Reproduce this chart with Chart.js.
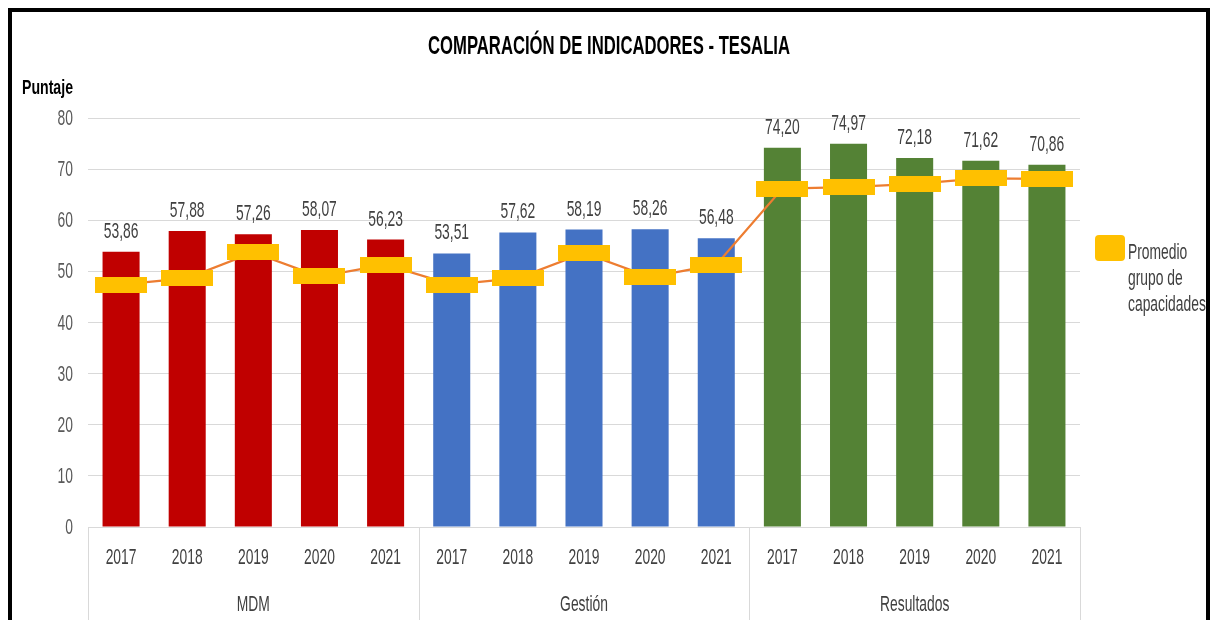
<!DOCTYPE html>
<html>
<head>
<meta charset="utf-8">
<script src="https://cdn.jsdelivr.net/npm/chart.js@4"></script>
<style>
  html, body { margin: 0; padding: 0; background: #fff; overflow: hidden; }
  #wrap { position: relative; width: 1210px; height: 620px; }
  #frame { position: absolute; left: 8px; top: 8px; width: 1202px; height: 700px; box-sizing: border-box;
           border: 4px solid #000; border-bottom: none; pointer-events: none; }
  canvas { position: absolute; left: 0; top: 0; }
</style>
</head>
<body>
<div id="wrap">
  <canvas id="chart" width="1210" height="620"></canvas>
  <div id="frame"></div>
</div>
<script>
// data
const years = ['2017', '2018', '2019', '2020', '2021'];
const groups = ['MDM', 'Gestión', 'Resultados'];
const scores = [53.86, 57.88, 57.26, 58.07, 56.23,
                53.51, 57.62, 58.19, 58.26, 56.48,
                74.20, 74.97, 72.18, 71.62, 70.86];
const groupAverage = [47.4, 48.7, 53.7, 49.0, 51.3,
                      47.4, 48.7, 53.6, 48.9, 51.3,
                      66.2, 66.5, 67.1, 68.2, 68.1];
const groupColors = ['#C00000', '#4472C4', '#548235'];
const yTicks = [0, 10, 20, 30, 40, 50, 60, 70, 80];

const FONT = "'Liberation Sans', Arial, sans-serif";
const SX = 0.63; // the source image has tall, narrow lettering
const labels = groups.flatMap(() => years);
const barColors = labels.map((_, i) => groupColors[Math.floor(i / years.length)]);
const fmt = v => v.toFixed(2).replace('.', ',');

// yellow dash marker for the average line
const marker = document.createElement('canvas');
marker.width = 52; marker.height = 16;
const mctx = marker.getContext('2d');
mctx.fillStyle = '#FFC000';
mctx.fillRect(0, 0, 52, 16);

function drawText(ctx, s, x, y, o) {
  ctx.save();
  ctx.font = (o.bold ? 'bold ' : '') + (o.size || 22) + 'px ' + FONT;
  ctx.fillStyle = o.color || '#404040';
  ctx.textAlign = o.align || 'center';
  ctx.textBaseline = o.baseline || 'alphabetic';
  let sx = o.sx || SX;
  if (o.width) sx = o.width / ctx.measureText(s).width;
  ctx.translate(x, y);
  ctx.scale(sx, 1);
  ctx.fillText(s, 0, 0);
  ctx.restore();
}

const decorPlugin = {
  id: 'decor',
  afterDatasetsDraw(chart) {
    const ctx = chart.ctx;
    const x = chart.scales.x;
    const y = chart.scales.y;
    const area = chart.chartArea;

    // value labels over the bars
    chart.getDatasetMeta(1).data.forEach((el, i) => {
      drawText(ctx, fmt(scores[i]), el.x, el.y - 14, {});
    });

    // axis tick labels
    y.ticks.forEach(t => {
      drawText(ctx, String(t.value), y.right - 15, y.getPixelForValue(t.value) + 1,
               { align: 'right', baseline: 'middle', color: '#595959' });
    });
    labels.forEach((l, i) => {
      drawText(ctx, l, x.getPixelForValue(i), 558, { baseline: 'middle' });
    });

    // group separators + group names under the years
    ctx.save();
    ctx.strokeStyle = '#d9d9d9';
    ctx.lineWidth = 1;
    const edges = [x.left];
    for (let g = 1; g < groups.length; g++) {
      const i = g * years.length;
      edges.push((x.getPixelForValue(i - 1) + x.getPixelForValue(i)) / 2);
    }
    edges.push(x.right);
    edges.forEach(px => {
      ctx.beginPath();
      ctx.moveTo(Math.round(px) + 0.5, area.bottom);
      ctx.lineTo(Math.round(px) + 0.5, chart.height);
      ctx.stroke();
    });
    ctx.restore();
    groups.forEach((g, k) => {
      drawText(ctx, g, (edges[k] + edges[k + 1]) / 2, 605, { baseline: 'middle' });
    });

    // title and axis name
    drawText(ctx, 'COMPARACIÓN DE INDICADORES - TESALIA', 609, 54,
             { bold: true, size: 25, color: '#000', width: 362 });
    drawText(ctx, 'Puntaje', 22, 94, { bold: true, size: 20, color: '#000', align: 'left', width: 51 });

    // legend
    ctx.save();
    ctx.fillStyle = '#FFC000';
    ctx.beginPath();
    ctx.roundRect(1095, 235, 30, 26, 4);
    ctx.fill();
    ctx.restore();
    ['Promedio', 'grupo de', 'capacidades'].forEach((t, k) => {
      drawText(ctx, t, 1128, 259 + k * 26, { align: 'left' });
    });
  }
};

new Chart(document.getElementById('chart'), {
  data: {
    labels: labels,
    datasets: [
      {
        type: 'line',
        label: 'Promedio grupo de capacidades',
        data: groupAverage,
        borderColor: '#ED7D31',
        borderWidth: 2.25,
        pointStyle: marker,
        pointRadius: 8,
        tension: 0,
        order: 0
      },
      {
        type: 'bar',
        label: 'Puntaje',
        data: scores,
        backgroundColor: barColors,
        categoryPercentage: 1,
        barPercentage: 0.56,
        order: 1
      }
    ]
  },
  options: {
    responsive: false,
    animation: false,
    devicePixelRatio: 1,
    layout: { padding: { left: 48, right: 130, top: 118, bottom: 0 } },
    plugins: { legend: { display: false }, tooltip: { enabled: false }, title: { display: false } },
    scales: {
      x: {
        grid: { display: false },
        border: { display: true, color: '#d9d9d9' },
        ticks: { display: false, autoSkip: false },
        afterFit: s => { s.height = 93; }
      },
      y: {
        min: 0, max: 80,
        afterBuildTicks: s => { s.ticks = yTicks.map(v => ({ value: v })); },
        grid: { color: '#d9d9d9', drawTicks: false },
        border: { display: false },
        ticks: { display: false },
        afterFit: s => { s.width = 40; }
      }
    }
  },
  plugins: [decorPlugin]
});
</script>
</body>
</html>
